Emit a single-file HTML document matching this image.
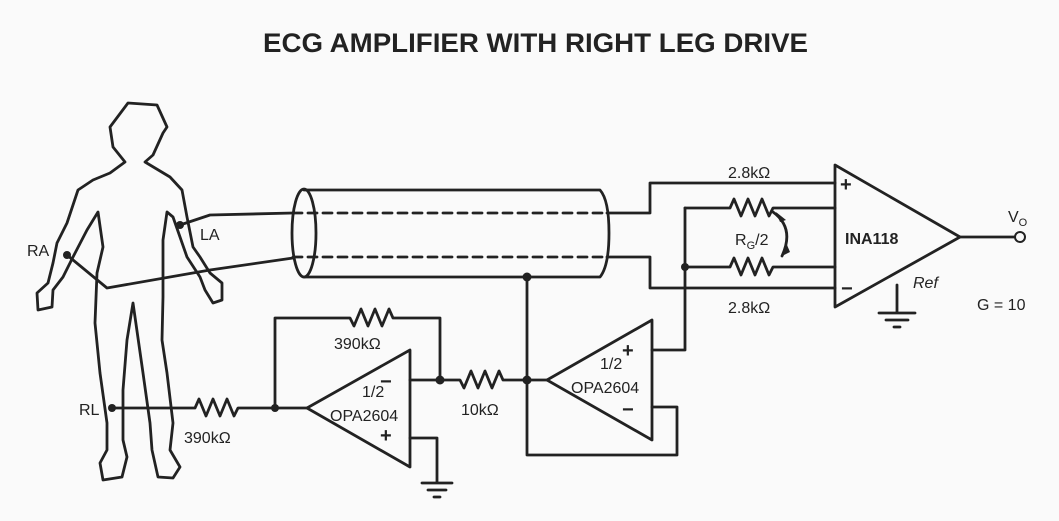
<!DOCTYPE html>
<html><head><meta charset="utf-8"><style>
html,body{margin:0;padding:0;background:#fafafa;}
svg{display:block;}
text{font-family:"Liberation Sans",sans-serif;fill:#222;}
</style></head><body>
<svg width="1059" height="521" viewBox="0 0 1059 521" xmlns="http://www.w3.org/2000/svg">
<rect width="1059" height="521" fill="#fafafa"/>
<text x="263" y="52" font-size="27" font-weight="bold" textLength="545" lengthAdjust="spacingAndGlyphs">ECG AMPLIFIER WITH RIGHT LEG DRIVE</text>
<g fill="none" stroke="#222" stroke-width="2.8" stroke-linejoin="round" stroke-linecap="round">
<path d="M128,103 L157,105 L167,127 L163,133 L153,155 L145,162 L170,177 L182,190 L187,217 L193,247 L200,257 L210,273 L222,283 L222,300 L213,303 L205,290 L200,277 L187,257 L180,237 L173,217 L167,212 L163,240 L163,297 L162,340 L167,373 L173,423 L170,450 L180,467 L173,478 L158,477 L152,450 L150,423 L143,373 L133,303 L127,340 L123,390 L123,440 L127,457 L122,477 L103,480 L100,463 L107,450 L107,423 L100,373 L95,323 L97,273 L103,247 L98,212 L87,230 L73,257 L63,277 L53,290 L52,307 L38,310 L37,293 L48,283 L53,263 L57,243 L67,223 L78,190 L93,180 L110,173 L125,162 L113,147 L110,127 Z"/>
<path d="M180,225 L210,215 L293,213"/>
<path d="M67,255 L107,288 L210,270 L293,258"/>
<ellipse cx="304" cy="233" rx="12" ry="44"/>
<path d="M304,190 L600,190 Q609,200 609,233 Q609,266 600,277 L304,277"/>
<path d="M293,213 L607,213 M293,257 L607,257" stroke-dasharray="9,6"/>
<path d="M607,213 L650,213 L650,183 L835,183"/>
<path d="M607,257 L650,257 L650,288 L835,288"/>
<path d="M685,208 L730,208 L734,199 L741,216 L748,199 L755,216 L762,199 L769,216 L773,208 L835,208"/>
<path d="M685,267 L730,267 L734,258 L741,275 L748,258 L755,275 L762,258 L769,275 L773,267 L835,267"/>
<path d="M685,208 L685,350 L652,350"/>
<path d="M773,212 Q795,228 782,256"/>
<path d="M835,165 L960,237 L835,307 Z"/>
<path d="M960,237 L1015,237"/>
<path d="M897,285 L897,313 M879,313 L915,313 M886,320 L908,320 M894,327 L900,327"/>
<path d="M527,277 L527,455 L677,455 L677,407 L652,407"/>
<path d="M652,320 L652,440 L547,380 Z"/>
<path d="M547,380 L527,380"/>
<path d="M527,380 L503,380 L499,371 L492,388 L485,371 L478,388 L471,371 L464,388 L460,380 L440,380"/>
<path d="M410,350 L410,467 L307,408 Z"/>
<path d="M410,380 L440,380 L440,318 L393,318 L389,309 L382,326 L375,309 L368,326 L361,309 L354,326 L350,318 L275,318 L275,408 L307,408"/>
<path d="M410,438 L437,438 L437,483 M422,483 L452,483 M428,490 L446,490 M434,497 L440,497"/>
<path d="M112,408 L195,408 L199,399 L206,416 L213,399 L220,416 L227,399 L234,416 L238,408 L275,408"/>
</g>
<g fill="#222">
<circle cx="67" cy="255" r="4"/><circle cx="180" cy="225" r="4"/><circle cx="112" cy="408" r="4"/>
<circle cx="527" cy="277" r="4.5"/><circle cx="527" cy="380" r="4.5"/><circle cx="440" cy="380" r="4.5"/>
<circle cx="275" cy="408" r="4"/><circle cx="685" cy="267" r="4"/>
<path d="M776,212 L786,220 L780,222 Z"/><path d="M782,256 L787,245 L790,252 Z"/>
</g>
<circle cx="1020" cy="237" r="5" fill="#fafafa" stroke="#222" stroke-width="2"/>
<g font-size="16">
<text x="27" y="256">RA</text>
<text x="200" y="240">LA</text>
<text x="79" y="415">RL</text>
<text x="184" y="443">390kΩ</text>
<text x="334" y="349">390kΩ</text>
<text x="461" y="415">10kΩ</text>
<text x="728" y="178">2.8kΩ</text>
<text x="728" y="313">2.8kΩ</text>
<text x="735" y="245">R<tspan font-size="11" dy="4">G</tspan><tspan dy="-4">/2</tspan></text>
<text x="845" y="244" font-weight="bold">INA118</text>
<text x="913" y="288" font-style="italic">Ref</text>
<text x="977" y="310">G = 10</text>
<text x="1008" y="222">V<tspan font-size="11" dy="4">O</tspan></text>
<text x="362" y="397">1/2</text>
<text x="330" y="421">OPA2604</text>
<text x="600" y="369">1/2</text>
<text x="571" y="393">OPA2604</text>
</g>
<g font-size="20" font-weight="bold">
<text x="840" y="191">+</text>
<text x="841" y="295">−</text>
<text x="380" y="388">−</text>
<text x="380" y="442">+</text>
<text x="622" y="357">+</text>
<text x="622" y="416">−</text>
</g>
</svg>
</body></html>
